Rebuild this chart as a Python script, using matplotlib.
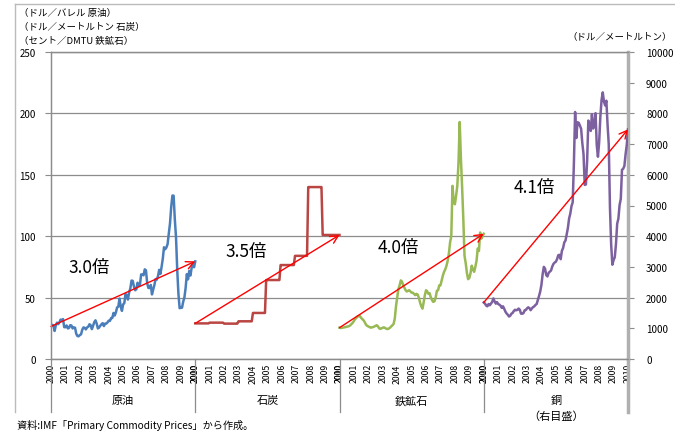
import numpy as np
import matplotlib
matplotlib.use("Agg")
import matplotlib.pyplot as plt
from matplotlib.lines import Line2D

plt.rcParams['font.family'] = ['Noto Sans CJK JP', 'DejaVu Sans']

# monthly prices, Jan 2000 - Jan 2010
oil = [26.5, 27.8, 27.5, 22.8, 27.4, 29.6, 28.4, 29.9, 32.1, 31.4, 32.5, 25.9,
       25.9, 27.3, 24.9, 25.3, 27.5, 27.3, 24.9, 25.7, 25.5, 20.5, 18.7, 18.5,
       19.5, 20.1, 23.8, 25.7, 25.4, 24.1, 25.7, 26.3, 28.3, 27.5, 24.3, 27.0,
       30.0, 31.5, 28.9, 24.9, 25.6, 27.1, 28.3, 29.2, 26.8, 28.8, 28.8, 29.8,
       31.2, 31.0, 33.3, 33.4, 37.5, 35.4, 38.0, 42.0, 42.6, 49.2, 42.8, 39.2,
       44.4, 45.6, 52.9, 51.9, 48.4, 54.3, 57.5, 63.9, 63.6, 59.0, 56.0, 56.8,
       62.1, 59.6, 60.6, 68.9, 68.7, 68.2, 73.0, 72.2, 61.8, 57.9, 57.8, 60.3,
       52.6, 56.5, 60.2, 65.1, 64.6, 67.5, 72.6, 69.3, 75.0, 81.7, 91.0, 89.4,
       90.8, 93.6, 102.2, 110.4, 123.9, 133.1, 133.0, 113.7, 99.1, 72.8, 53.2, 41.4,
       41.7, 41.8, 46.8, 50.2, 58.0, 69.1, 64.9, 71.7, 68.0, 74.2, 77.0, 74.7,
       79.5]

coal = [29.0, 29.0, 29.0, 29.0, 29.0, 29.0, 29.0, 29.0, 29.0, 29.0, 29.0, 29.0,
        29.6, 29.6, 29.6, 29.6, 29.6, 29.6, 29.6, 29.6, 29.6, 29.6, 29.6, 29.6,
        28.8, 28.8, 28.8, 28.8, 28.8, 28.8, 28.8, 28.8, 28.8, 28.8, 28.8, 28.8,
        30.7, 30.7, 30.7, 30.7, 30.7, 30.7, 30.7, 30.7, 30.7, 30.7, 30.7, 30.7,
        37.5, 37.5, 37.5, 37.5, 37.5, 37.5, 37.5, 37.5, 37.5, 37.5, 37.5, 64.3,
        64.3, 64.3, 64.3, 64.3, 64.3, 64.3, 64.3, 64.3, 64.3, 64.3, 64.3, 76.5,
        76.5, 76.5, 76.5, 76.5, 76.5, 76.5, 76.5, 76.5, 76.5, 76.5, 76.5, 84.0,
        84.0, 84.0, 84.0, 84.0, 84.0, 84.0, 84.0, 84.0, 84.0, 84.0, 140.0, 140.0,
        140.0, 140.0, 140.0, 140.0, 140.0, 140.0, 140.0, 140.0, 140.0, 140.0, 101.0, 101.0,
        101.0, 101.0, 101.0, 101.0, 101.0, 101.0, 101.0, 101.0, 101.0, 101.0, 101.0, 101.0,
        101.0]

iron_ore = [25.5, 25.2, 25.4, 25.6, 25.8, 26.0, 26.3, 26.5, 26.8, 27.5, 28.5, 29.5,
            31.0, 32.5, 33.5, 34.5, 35.0, 35.0, 33.5, 32.5, 31.5, 30.0, 28.0, 27.0,
            26.5, 26.0, 25.5, 25.8, 26.0, 26.5, 27.0, 27.5, 26.5, 25.0, 24.5, 25.0,
            25.5, 25.8, 25.2, 24.6, 24.4, 24.8, 25.5, 26.5, 27.5, 28.5, 33.0, 43.0,
            50.0, 57.0, 60.0, 64.0, 63.0, 60.0, 58.0, 56.0, 55.0, 55.5, 56.0, 55.0,
            54.0, 54.0, 53.0, 52.0, 53.0, 52.5, 50.0, 46.0, 43.0, 41.0, 46.0, 52.0,
            56.0, 55.0, 53.0, 53.5, 50.0, 48.0, 46.5, 47.0, 50.0, 55.5, 56.0, 60.0,
            60.0, 64.0, 68.0, 71.0, 73.0, 76.0, 80.0, 86.0, 95.0, 100.0, 141.0, 128.0,
            126.0, 133.0, 141.0, 160.0, 193.0, 163.0, 140.0, 114.0, 84.0, 78.0, 70.0, 65.0,
            66.0, 70.0, 76.0, 73.0, 71.0, 75.0, 80.0, 90.0, 88.0, 103.0, 98.0, 100.0,
            102.0]

copper = [1840, 1804, 1741, 1716, 1788, 1751, 1804, 1858, 1973, 1878, 1804, 1854,
          1790, 1771, 1735, 1666, 1716, 1638, 1543, 1484, 1440, 1383, 1409, 1474,
          1500, 1562, 1603, 1587, 1601, 1644, 1603, 1477, 1475, 1492, 1585, 1596,
          1648, 1683, 1658, 1590, 1646, 1690, 1713, 1761, 1790, 1922, 2056, 2201,
          2423, 2764, 3002, 2941, 2732, 2689, 2808, 2846, 2883, 3012, 3098, 3143,
          3170, 3254, 3380, 3394, 3251, 3523, 3615, 3798, 3857, 4060, 4269, 4577,
          4734, 4982, 5103, 6384, 8046, 7197, 7712, 7695, 7602, 7500, 7029, 6675,
          5670, 5686, 6452, 7766, 7650, 7428, 7972, 7508, 7652, 8008, 6967, 6588,
          7061, 7888, 8439, 8685, 8383, 8260, 8414, 7634, 6988, 4926, 3717, 3072,
          3221, 3315, 3750, 4407, 4569, 5014, 5216, 6165, 6196, 6288, 6676, 6982,
          7480]

groups = ['原油', '石炭', '鉄鉱石', '銅']
ratios = ['3.0倍', '3.5倍', '4.0倍', '4.1倍']
years = [str(y) for y in range(2000, 2011)]
colors = ['#4A7EBB', '#B94643', '#98B954', '#7D60A0']
grid_c = '#8C8C8C'

fig = plt.figure(figsize=(6.75, 4.35), dpi=100)
ax = fig.add_axes([51 / 675, 1 - 360 / 435, 577 / 675, 307 / 435])
ax2 = ax.twinx()

months = np.arange(len(oil)) / 12.0
series = [(ax, oil), (ax, coal), (ax, iron_ore), (ax2, copper)]
for g, (a, vals) in enumerate(series):
    x = g * 10 + months
    a.plot(x, vals, color=colors[g], lw=1.8, solid_joinstyle='round', zorder=3)
    # growth arrow from first to last month
    a.annotate('', xy=(x[-1], vals[-1]), xytext=(x[0], vals[0]),
               arrowprops=dict(arrowstyle='->', color='red', lw=1.0,
                               mutation_scale=14, shrinkA=0, shrinkB=0),
               zorder=4)

# ratio labels
label_pos = [(2.63, 75), (13.5, 88), (24.1, 91), (33.5, 140)]
for (lx, ly), txt in zip(label_pos, ratios):
    ax.text(lx, ly, txt, fontsize=12.5, ha='center', va='center', zorder=5)

ax.set_xlim(0, 40)
ax.set_ylim(0, 250)
ax2.set_ylim(0, 10000)
ax.set_yticks(range(0, 251, 50))
ax2.set_yticks(range(0, 10001, 1000))
ax.tick_params(axis='y', labelsize=7, length=4, color=grid_c, pad=7)
ax2.tick_params(axis='y', labelsize=7, length=4, color=grid_c, pad=9)
for lab in ax2.get_yticklabels():
    lab.set_horizontalalignment('left')

ax.yaxis.grid(True, color=grid_c, lw=0.9)
ax.set_axisbelow(True)

# year labels for each group; boundary labels overlap
xt, xl = [], []
for g in range(4):
    for k, yl in enumerate(years):
        eps = -1e-4 if k == 10 else 1e-4 if k == 0 else 0
        xt.append(g * 10 + k + eps)
        xl.append(yl)
ax.set_xticks(xt)
ax.set_xticklabels(xl, rotation=90, fontsize=6.3, va='top')
ax.tick_params(axis='x', length=0, pad=3)

for a in (ax, ax2):
    for s in a.spines.values():
        s.set_color(grid_c)
        s.set_linewidth(0.9)
ax2.spines['right'].set_color('#B0B0B0')
ax2.spines['right'].set_linewidth(2.5)

# group separators below the axis
low = -(413 - 360) / 307
for g in range(5):
    lw, c = (2.5, '#B0B0B0') if g == 4 else (0.9, grid_c)
    ax.plot([g * 10, g * 10], [0, low], transform=ax.get_xaxis_transform(),
            color=c, lw=lw, clip_on=False)

for g, name in enumerate(groups):
    ax.text(g * 10 + 5, -(401 - 360) / 307, name, transform=ax.get_xaxis_transform(),
            ha='center', va='center', fontsize=8)
ax.text(35, -(417 - 360) / 307, '（右目盛）', transform=ax.get_xaxis_transform(),
        ha='center', va='center', fontsize=8)

# unit notes
units_left = ['（ドル／バレル 原油）', '（ドル／メートルトン 石炭）', '（セント／DMTU 鉄鉱石）']
for i, t in enumerate(units_left):
    fig.text(19 / 675, 1 - (13 + 14 * i) / 435, t, fontsize=6.8, va='center', ha='left')
fig.text(672 / 675, 1 - 37 / 435, '（ドル／メートルトン）', fontsize=6.8, va='center', ha='right')

fig.text(17 / 675, 1 - 425 / 435, '資料:IMF「Primary Commodity Prices」から作成。',
         fontsize=7.3, va='center', ha='left')

# outer chart border (top and left)
fig.add_artist(Line2D([15 / 675, 1], [1 - 5 / 435, 1 - 5 / 435], color='#BBBBBB', lw=1,
                      transform=fig.transFigure))
fig.add_artist(Line2D([15 / 675, 15 / 675], [1 - 5 / 435, 1 - 413 / 435], color='#BBBBBB',
                      lw=1, transform=fig.transFigure))

fig.savefig('out.png', dpi=100)
